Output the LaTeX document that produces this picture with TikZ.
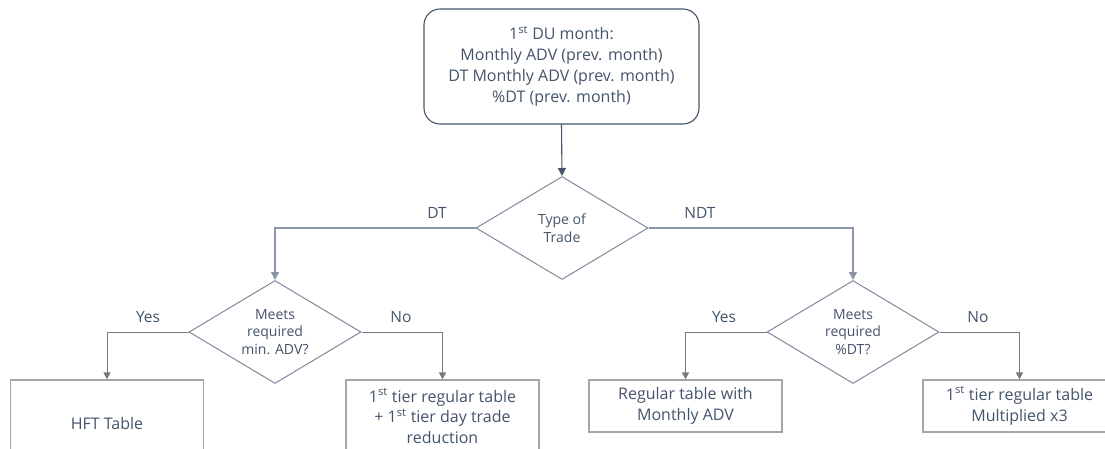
\documentclass[tikz,border=0pt]{standalone}
\usepackage{fontspec}
\setmainfont{Open Sans}
\usetikzlibrary{shapes.geometric,arrows.meta}
\definecolor{txt}{HTML}{44546A}
\definecolor{dmd}{HTML}{7F8A9C}
\definecolor{lnk}{HTML}{8C96A6}
\definecolor{gry}{HTML}{7A7A7A}
\definecolor{bxb}{HTML}{A6A6A6}
\begin{document}
\begin{tikzpicture}[x=1pt,y=-1pt,
  every node/.style={text=txt, font=\fontsize{16}{21}\selectfont},
  topbox/.style={draw=txt, line width=1.1pt, rounded corners=16pt, minimum width=275pt, minimum height=115pt, align=center, inner sep=0pt},
  dia/.style={diamond, draw=dmd, line width=1pt, aspect=1.67, minimum width=172pt, minimum height=103pt, inner sep=0pt, align=center, font=\fontsize{14}{17.5}\selectfont},
  resbox/.style={draw=bxb, line width=1.2pt, minimum width=193pt, align=center, inner sep=0pt, font=\fontsize{16}{21.5}\selectfont},
  mainlink/.style={draw=lnk, line width=1.6pt, -{Triangle[length=8pt,width=8pt]}},
  toplink/.style={draw=txt, line width=1.1pt, -{Triangle[length=8pt,width=8pt]}},
  sublink/.style={draw=gry, line width=0.9pt, -{Triangle[length=7pt,width=7pt]}},
  lbl/.style={font=\fontsize{15.5}{18}\selectfont, inner sep=0pt}
]
\useasboundingbox (0,0) rectangle (1105,448);
\clip (0,0) rectangle (1105,448);
\fill[white] (0,0) rectangle (1105,448);

\node[topbox] (top) at (561.5,66.5) {1\textsuperscript{st} DU month:\\Monthly ADV (prev. month)\\DT Monthly ADV (prev. month)\\\%DT (prev. month)};
\node[dia] (type) at (562,228) {Type of\\Trade};
\node[dia] (dtd) at (275,332) {Meets\\required\\min. ADV?};
\node[dia] (ndtd) at (853,332) {Meets\\required\\\%DT?};
\node[resbox, minimum height=86pt] (hft) at (107,423) {HFT Table};
\node[resbox, minimum height=72pt, font=\fontsize{16}{20.5}\selectfont] (b2) at (442.5,416) {1\textsuperscript{st} tier regular table\\+ 1\textsuperscript{st} tier day trade\\reduction};
\node[resbox, minimum height=52pt] (b3) at (685.5,406) {Regular table with\\Monthly ADV};
\node[resbox, minimum height=52pt] (b4) at (1019.5,406) {1\textsuperscript{st} tier regular table\\Multiplied x3};

\draw[toplink] (top.south) -- (type.north);
\draw[mainlink] (type.west) -| (dtd.north);
\draw[mainlink] (type.east) -| (ndtd.north);
\draw[sublink] (dtd.west) -| (hft.north);
\draw[sublink] (dtd.east) -| (b2.north);
\draw[sublink] (ndtd.west) -| (b3.north);
\draw[sublink] (ndtd.east) -| (b4.north);

\node[lbl] (ldt) at (437,213) {DT};
\node[lbl] (lndt) at (700,213) {NDT};
\node[lbl] (ly1) at (148,317) {Yes};
\node[lbl] (ln1) at (401,317) {No};
\node[lbl] (ly2) at (724,317) {Yes};
\node[lbl] (ln2) at (978,317) {No};
\end{tikzpicture}
\end{document}
